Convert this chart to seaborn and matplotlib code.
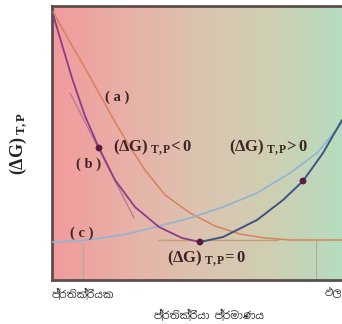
import numpy as np
import pandas as pd
import matplotlib
matplotlib.use("Agg")
import matplotlib.pyplot as plt
import seaborn as sns
from matplotlib.colors import LinearSegmentedColormap

sns.set_theme(style="white")
plt.rcParams['font.family'] = ['Noto Sans Sinhala', 'Noto Sans', 'DejaVu Sans']
plt.rcParams['mathtext.fontset'] = 'custom'
plt.rcParams['mathtext.rm'] = 'Liberation Serif'
plt.rcParams['mathtext.bf'] = 'Liberation Serif:bold'
plt.rcParams['mathtext.it'] = 'Liberation Serif:italic'

# ---- data ----
a_x = [0.34, 6.21, 11.38, 16.55, 21.72, 26.90, 32.07, 38.97, 47.59, 56.21, 64.83, 73.45, 82.07, 100]
a_y = [97.81, 86.86, 77.37, 67.52, 57.66, 48.54, 40.15, 31.02, 24.45, 19.71, 16.79, 15.33, 14.60, 14.60]

b_left_x = [0.34, 2.76, 6.90, 11.38, 16.21, 21.72, 28.62, 36.90, 44.83, 51.03]
b_left_y = [97.08, 88.32, 73.72, 59.85, 48.18, 36.50, 26.64, 19.34, 15.33, 13.87]
b_right_x = [51.03, 58.97, 70.69, 79.66, 86.55, 93.45, 100]
b_right_y = [13.87, 15.69, 21.90, 29.20, 36.13, 46.35, 58.39]

c_x = [0, 8.62, 17.24, 25.86, 34.48, 47.59, 58.97, 70.69, 82.07, 91.38, 100]
c_y = [13.87, 14.23, 15.33, 16.79, 18.98, 22.63, 26.64, 31.75, 39.05, 46.35, 57.30]

tangent_x = [6.21, 28.28]
tangent_y = [68.25, 22.63]
flat_x = [36.6, 78.0]
flat_y = [14.6, 14.6]

dot_x = [16.21, 51.03, 86.55]
dot_y = [48.18, 13.87, 36.13]

vline_x = [10.7, 91.0]
vline_top = [13.6, 14.6]

tick_labels = ["ප්‍රතික්‍රියක", "ඵල"]
xlabel = "ප්‍රතික්‍රියා ප්‍රමාණය"

# ---- figure ----
fig = plt.figure(figsize=(3.42, 3.24), dpi=100)
ax = fig.add_axes([52/342, 1-280/324, 290/342, 274/324])
ax.set_xlim(0, 100)
ax.set_ylim(0, 100)

cmap = LinearSegmentedColormap.from_list("bg", ["#f29a9c", "#e9b0a8", "#dcc3b0", "#cfcfb2", "#b6dcbf"])
grad = np.linspace(0, 1, 256).reshape(1, -1)
ax.imshow(grad, extent=[0, 100, 0, 100], aspect='auto', cmap=cmap, zorder=0, origin='lower')

sns.lineplot(x=a_x, y=a_y, ax=ax, color="#d9805e", lw=1.1, zorder=3, sort=False)
sns.lineplot(x=c_x, y=c_y, ax=ax, color="#8fb6cf", lw=1.2, zorder=3, sort=False)
sns.lineplot(x=b_left_x, y=b_left_y, ax=ax, color="#8c3d86", lw=1.3, zorder=4, sort=False)
sns.lineplot(x=b_right_x, y=b_right_y, ax=ax, color="#3f5580", lw=1.4, zorder=4, sort=False)
sns.lineplot(x=tangent_x, y=tangent_y, ax=ax, color="#b0709a", lw=0.8, zorder=3, sort=False)
sns.lineplot(x=flat_x, y=flat_y, ax=ax, color="#c79a78", lw=1.0, zorder=3, sort=False)
for vx, vt in zip(vline_x, vline_top):
    ax.plot([vx, vx], [0, vt], color="#a8b0a0", lw=0.8, zorder=2)
sns.scatterplot(x=dot_x, y=dot_y, ax=ax, color="#5c1a42", s=24, zorder=5, edgecolor="none")

tc = "#3e2626"
fs = 12
ax.text(22.6, 66.8, "( a )", ha='center', va='center', fontsize=10.5, color=tc, family='Liberation Serif', weight='bold')
ax.text(12.6, 42.3, "( b )", ha='center', va='center', fontsize=10.5, color=tc, family='Liberation Serif', weight='bold')
ax.text(10.4, 17.2, "( c )", ha='center', va='center', fontsize=10.5, color=tc, family='Liberation Serif', weight='bold')
ax.text(21.0, 48.5, r"$\mathbf{(\Delta G)}_{\ \mathbf{T,P}}\mathbf{\!< 0}$", ha='left', va='center', fontsize=fs, color=tc)
ax.text(61.0, 48.5, r"$\mathbf{(\Delta G)}_{\ \mathbf{T,P}}\mathbf{\!> 0}$", ha='left', va='center', fontsize=fs, color=tc)
ax.text(39.5, 8.0, r"$\mathbf{(\Delta G)}_{\ \mathbf{T,P}}\mathbf{\!= 0}$", ha='left', va='center', fontsize=fs, color=tc)

ax.set_xticks([0, 100])
ax.set_xticklabels(tick_labels, fontsize=7.5, color="#333333")
lbls = ax.get_xticklabels()
lbls[0].set_ha('left')
lbls[1].set_ha('right')
ax.tick_params(axis='x', length=0, pad=6)
ax.set_yticks([])
ax.set_xlabel(xlabel, fontsize=7.5, color="#333333", labelpad=7)
ax.xaxis.label.set_x(0.54)
ax.set_ylabel(r"$\mathbf{(\Delta G)}_{\ \mathbf{T,P}}$", fontsize=13, color="#222222", labelpad=16)

for s in ['left', 'top', 'bottom']:
    ax.spines[s].set_color("#5a4e4e")
    ax.spines[s].set_linewidth(2)
ax.spines['right'].set_visible(False)

fig.savefig("out.png", dpi=100)
